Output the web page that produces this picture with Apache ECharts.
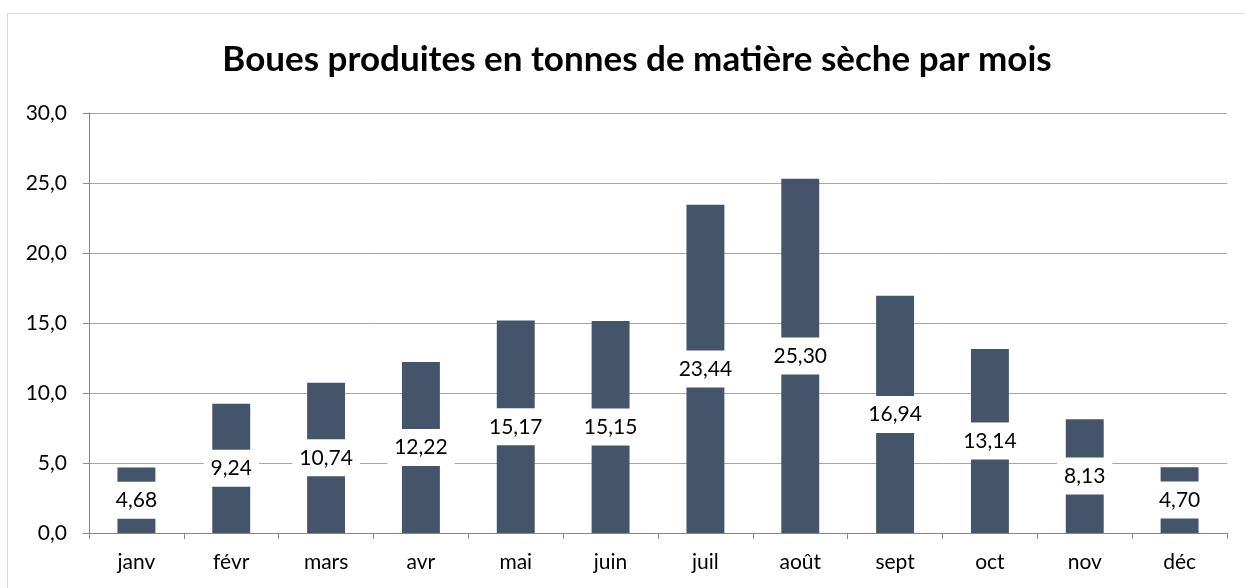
<!DOCTYPE html>
<html>
<head>
<meta charset="utf-8">
<style>
  html, body { margin: 0; padding: 0; background: #fff; }
  #frame { position: absolute; left: 7px; top: 13px; width: 1240px; height: 600px; border: 1px solid #d9d9d9; box-sizing: border-box; }
  #chart { position: absolute; left: 0; top: 0; width: 1245px; height: 588px; }
</style>
<script src="https://cdn.jsdelivr.net/npm/echarts@6/dist/echarts.min.js"></script>
</head>
<body>
<div id="frame"></div>
<div id="chart"></div>
<script>
// Monthly sludge production (tonnes of dry matter)
const months = ['janv', 'févr', 'mars', 'avr', 'mai', 'juin', 'juil', 'août', 'sept', 'oct', 'nov', 'déc'];
const tonnes = [4.68, 9.24, 10.74, 12.22, 15.17, 15.15, 23.44, 25.30, 16.94, 13.14, 8.13, 4.70];
const titleText = 'Boues produites en tonnes de matière sèche par mois';

const frNum = (v, d) => v.toFixed(d).replace('.', ',');
const FONT = 'Lato';

const chart = echarts.init(document.getElementById('chart'), null, { renderer: 'canvas' });
chart.setOption({
  backgroundColor: 'transparent',
  animation: false,
  title: {
    text: titleText,
    left: 632,
    textAlign: 'center',
    top: 37,
    textStyle: { fontFamily: FONT, fontWeight: 'bold', fontSize: 35, color: '#000' }
  },
  grid: { left: 89, right: 18, top: 113, bottom: 55, containLabel: false },
  xAxis: {
    type: 'category',
    data: months,
    axisLine: { lineStyle: { color: '#868686', width: 1 } },
    axisTick: { show: true, length: 6, alignWithLabel: false, lineStyle: { color: '#868686' } },
    axisLabel: { fontFamily: FONT, fontSize: 21, color: '#000', margin: 19 }
  },
  yAxis: {
    type: 'value',
    min: 0, max: 30, interval: 5,
    axisLine: { show: true, lineStyle: { color: '#868686', width: 1 } },
    axisTick: { show: true, length: 6, lineStyle: { color: '#868686' } },
    axisLabel: { fontFamily: FONT, fontSize: 21, color: '#000', margin: 22, formatter: v => frNum(v, 1) },
    splitLine: { lineStyle: { color: '#a6a6a6', width: 1 } }
  },
  series: [{
    type: 'bar',
    data: tonnes,
    barWidth: '40%',
    itemStyle: { color: '#44546a' },
    label: {
      show: true,
      position: 'inside',
      formatter: p => frNum(p.value, 2),
      fontFamily: FONT,
      fontSize: 21,
      color: '#000',
      backgroundColor: '#fff',
      padding: [8, 7]
    }
  }]
});
</script>
</body>
</html>
